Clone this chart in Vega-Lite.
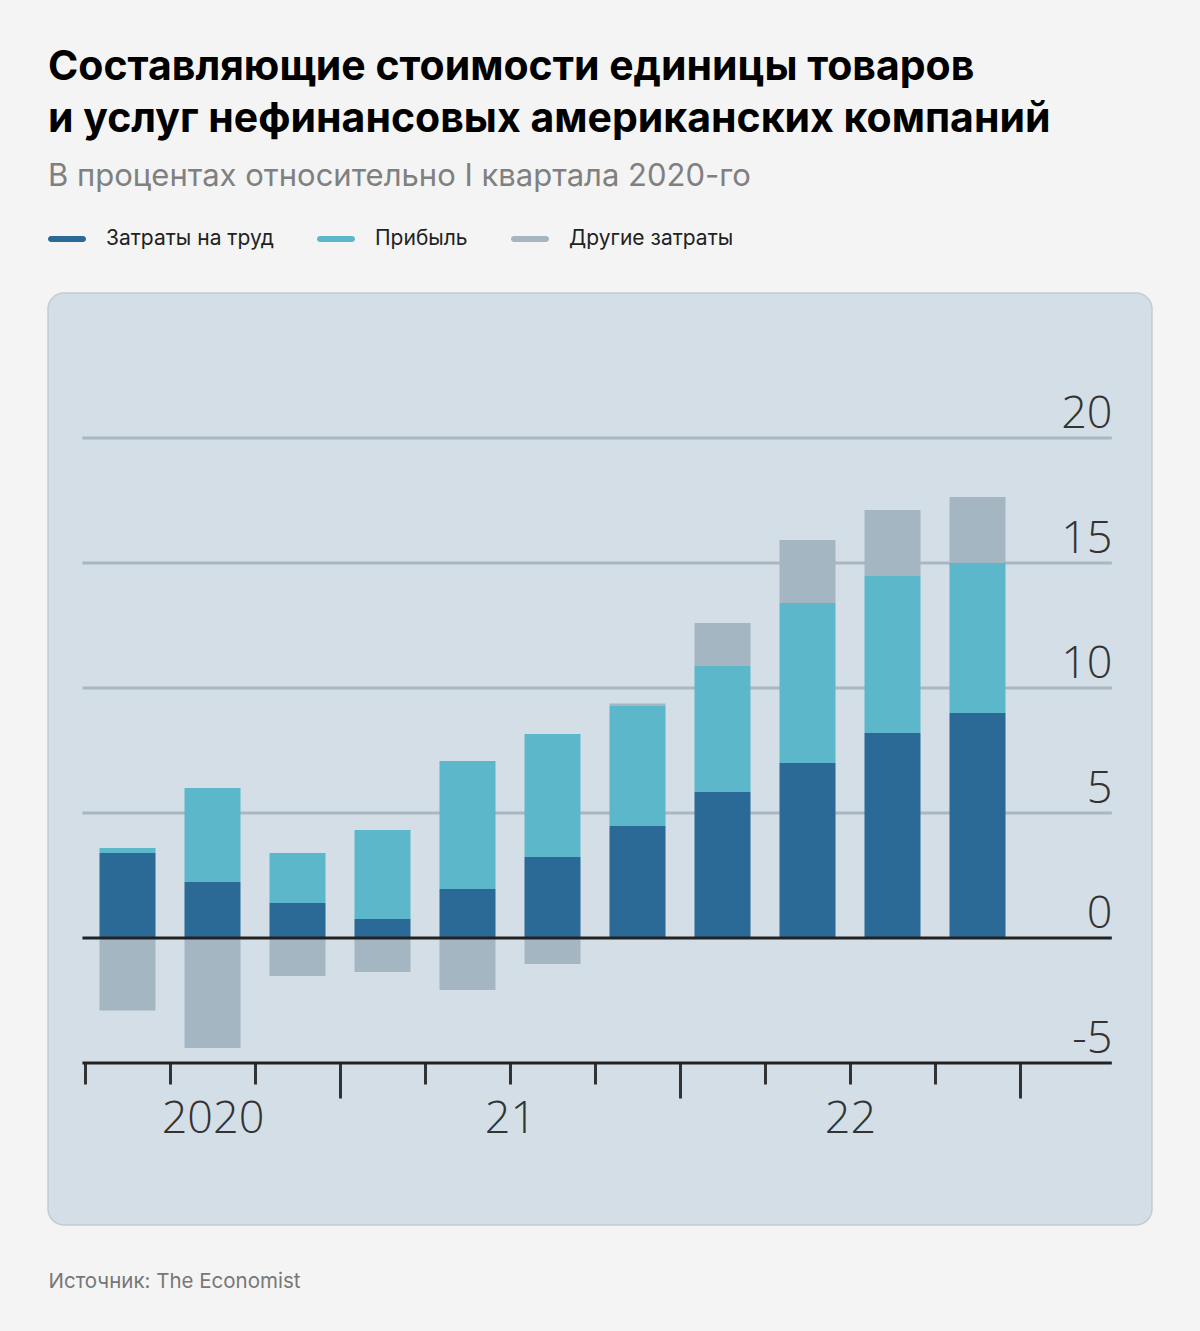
{
  "$schema": "https://vega.github.io/schema/vega-lite/v6.json",
  "width": 1104,
  "height": 932,
  "autosize": {"type": "none"},
  "padding": {"left": 48, "top": 293, "right": 48, "bottom": 106},
  "background": "#f4f4f4",
  "title": {
    "text": ["Составляющие стоимости единицы товаров", "и услуг нефинансовых американских компаний"],
    "subtitle": "В процентах относительно I квартала 2020-го",
    "anchor": "start",
    "frame": "group",
    "offset": 27,
    "font": "Inter",
    "fontSize": 41,
    "fontWeight": 700,
    "color": "#000000",
    "lineHeight": 52,
    "subtitleFont": "Inter",
    "subtitleFontSize": 31,
    "subtitleColor": "#808080",
    "subtitlePadding": 21
  },
  "config": {
    "view": {"fill": "#d3dee6", "stroke": "#c3cbd1", "strokeWidth": 1.5, "cornerRadius": 16},
    "legend": {
      "orient": "none",
      "legendX": 0,
      "legendY": -73,
      "direction": "horizontal",
      "title": null,
      "labelFont": "Inter",
      "labelFontSize": 21,
      "labelColor": "#222222",
      "labelOffset": 20,
      "labelLimit": 400,
      "columnPadding": 43,
      "symbolType": "M-0.842,-0.158H0.842A0.158,0.158 0 0 1 0.842,0.158H-0.842A0.158,0.158 0 0 1 -0.842,-0.158Z",
      "symbolSize": 1444,
      "symbolStrokeWidth": 0
    }
  },
  "datasets": {
    "bars": [
      {"quarter": "2020 Q2", "idx": 1, "component": "Затраты на труд", "value": 3.4},
      {"quarter": "2020 Q2", "idx": 1, "component": "Прибыль", "value": 0.2},
      {"quarter": "2020 Q2", "idx": 1, "component": "Другие затраты", "value": -2.9},
      {"quarter": "2020 Q3", "idx": 2, "component": "Затраты на труд", "value": 2.24},
      {"quarter": "2020 Q3", "idx": 2, "component": "Прибыль", "value": 3.76},
      {"quarter": "2020 Q3", "idx": 2, "component": "Другие затраты", "value": -4.4},
      {"quarter": "2020 Q4", "idx": 3, "component": "Затраты на труд", "value": 1.4},
      {"quarter": "2020 Q4", "idx": 3, "component": "Прибыль", "value": 2.0},
      {"quarter": "2020 Q4", "idx": 3, "component": "Другие затраты", "value": -1.52},
      {"quarter": "2021 Q1", "idx": 4, "component": "Затраты на труд", "value": 0.76},
      {"quarter": "2021 Q1", "idx": 4, "component": "Прибыль", "value": 3.56},
      {"quarter": "2021 Q1", "idx": 4, "component": "Другие затраты", "value": -1.36},
      {"quarter": "2021 Q2", "idx": 5, "component": "Затраты на труд", "value": 1.96},
      {"quarter": "2021 Q2", "idx": 5, "component": "Прибыль", "value": 5.12},
      {"quarter": "2021 Q2", "idx": 5, "component": "Другие затраты", "value": -2.08},
      {"quarter": "2021 Q3", "idx": 6, "component": "Затраты на труд", "value": 3.24},
      {"quarter": "2021 Q3", "idx": 6, "component": "Прибыль", "value": 4.92},
      {"quarter": "2021 Q3", "idx": 6, "component": "Другие затраты", "value": -1.04},
      {"quarter": "2021 Q4", "idx": 7, "component": "Затраты на труд", "value": 4.48},
      {"quarter": "2021 Q4", "idx": 7, "component": "Прибыль", "value": 4.8},
      {"quarter": "2021 Q4", "idx": 7, "component": "Другие затраты", "value": 0.1},
      {"quarter": "2022 Q1", "idx": 8, "component": "Затраты на труд", "value": 5.84},
      {"quarter": "2022 Q1", "idx": 8, "component": "Прибыль", "value": 5.04},
      {"quarter": "2022 Q1", "idx": 8, "component": "Другие затраты", "value": 1.72},
      {"quarter": "2022 Q2", "idx": 9, "component": "Затраты на труд", "value": 7.0},
      {"quarter": "2022 Q2", "idx": 9, "component": "Прибыль", "value": 6.4},
      {"quarter": "2022 Q2", "idx": 9, "component": "Другие затраты", "value": 2.52},
      {"quarter": "2022 Q3", "idx": 10, "component": "Затраты на труд", "value": 8.2},
      {"quarter": "2022 Q3", "idx": 10, "component": "Прибыль", "value": 6.28},
      {"quarter": "2022 Q3", "idx": 10, "component": "Другие затраты", "value": 2.64},
      {"quarter": "2022 Q4", "idx": 11, "component": "Затраты на труд", "value": 9.0},
      {"quarter": "2022 Q4", "idx": 11, "component": "Прибыль", "value": 6.0},
      {"quarter": "2022 Q4", "idx": 11, "component": "Другие затраты", "value": 2.64}
    ],
    "grid": [{"v": 5}, {"v": 10}, {"v": 15}, {"v": 20}],
    "base": [{"v": 0}, {"v": -5}]
  },
  "resolve": {"axis": {"x": "independent", "y": "independent"}},
  "layer": [
    {
      "data": {"name": "grid"},
      "mark": {"type": "rule", "color": "#a9b7c1", "strokeWidth": 3},
      "encoding": {
        "y": {
          "field": "v", "type": "quantitative",
          "scale": {"domain": [-11.48, 25.8], "nice": false, "zero": false, "padding": 0},
          "axis": {
            "orient": "right",
            "values": [-5, 0, 5, 10, 15, 20],
            "title": null,
            "domain": false,
            "ticks": false,
            "tickSize": 0,
            "grid": false,
            "labelAlign": "right",
            "labelBaseline": "alphabetic",
            "labelPadding": -40,
            "labelOffset": -11,
            "labelFont": "Open Sans",
            "labelFontWeight": 300,
            "labelFontSize": 45,
            "labelColor": "#333333",
            "labelExpr": "'' + datum.value",
            "labelFlush": false,
            "labelOverlap": false,
            "labelBound": false
          }
        },
        "x": {"datum": 0.47, "type": "quantitative",
          "scale": {"domain": [0.0647, 13.0529], "nice": false, "zero": false, "padding": 0},
          "axis": {
            "orient": "bottom",
            "offset": -162,
            "values": [0.5, 1.5, 2, 2.5, 3.5, 4.5, 5.5, 6.5, 7.5, 8.5, 9.5, 10.5, 11.5],
            "domain": false,
            "grid": false,
            "tickColor": "#333333",
            "tickWidth": 3,
            "tickOpacity": {"condition": {"test": "datum.value === 2", "value": 0}, "value": 1},
            "tickSize": {"condition": {"test": "datum.value === 3.5 || datum.value === 7.5 || datum.value === 11.5", "value": 35}, "value": 21},
            "labelExpr": "datum.value === 2 ? '2020' : datum.value === 5.5 ? '21' : datum.value === 9.5 ? '22' : ''",
            "labelFont": "Open Sans",
            "labelFontWeight": 300,
            "labelFontSize": 45,
            "labelColor": "#333333",
            "labelBaseline": "alphabetic",
            "labelPadding": 48,
            "labelFlush": false,
            "labelOverlap": false,
            "labelBound": false,
            "title": "Источник: The Economist",
            "titleX": 0,
            "titleY": 224,
            "titleAlign": "left",
            "titleBaseline": "alphabetic",
            "titleAngle": 0,
            "titleFont": "Inter",
            "titleFontSize": 20.5,
            "titleFontWeight": 400,
            "titleColor": "#777777"
          }
        },
        "x2": {"datum": 12.58}
      }
    },
    {
      "data": {"name": "bars"},
      "transform": [
        {"calculate": "indexof(['Затраты на труд', 'Прибыль', 'Другие затраты'], datum.component)", "as": "stack_rank"}
      ],
      "mark": {"type": "bar", "width": 56},
      "encoding": {
        "x": {"field": "idx", "type": "quantitative", "axis": null},
        "y": {"field": "value", "type": "quantitative", "stack": "zero", "axis": null},
        "color": {
          "field": "component", "type": "nominal",
          "sort": ["Затраты на труд", "Прибыль", "Другие затраты"],
          "scale": {
            "domain": ["Затраты на труд", "Прибыль", "Другие затраты"],
            "range": ["#2b6996", "#5bb7c9", "#a4b6c1"]
          }
        },
        "order": {"field": "stack_rank", "type": "quantitative", "sort": "ascending"}
      }
    },
    {
      "data": {"name": "base"},
      "mark": {"type": "rule", "color": "#222222", "strokeWidth": 3},
      "encoding": {
        "y": {"field": "v", "type": "quantitative", "axis": null},
        "x": {"datum": 0.47, "type": "quantitative", "axis": null},
        "x2": {"datum": 12.58}
      }
    }
  ]
}
